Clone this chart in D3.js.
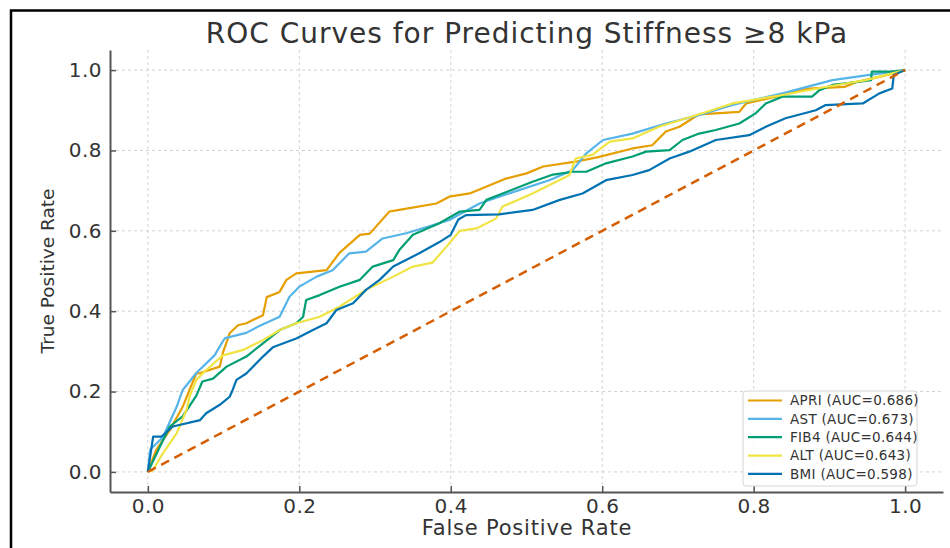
<!DOCTYPE html>
<html>
<head>
<meta charset="utf-8">
<script src="https://cdn.jsdelivr.net/npm/d3@7"></script>
<style>
  body { margin: 0; background: #fff; }
  svg text { font-family: "DejaVu Sans", sans-serif; fill: #333; }
</style>
</head>
<body>
<svg id="roc" width="950" height="548"></svg>
<script>
// ROC points [false positive rate, true positive rate]
const apri = [[0,0],[0.011,0.055],[0.029,0.104],[0.046,0.162],[0.055,0.204],[0.064,0.245],[0.069,0.246],[0.095,0.262],[0.099,0.296],[0.108,0.345],[0.119,0.365],[0.13,0.37],[0.152,0.39],[0.157,0.435],[0.174,0.448],[0.183,0.478],[0.196,0.494],[0.236,0.502],[0.253,0.545],[0.28,0.59],[0.293,0.593],[0.319,0.648],[0.332,0.652],[0.381,0.668],[0.398,0.685],[0.425,0.693],[0.473,0.73],[0.5,0.743],[0.522,0.76],[0.565,0.772],[0.596,0.784],[0.64,0.805],[0.666,0.813],[0.684,0.847],[0.702,0.859],[0.728,0.89],[0.781,0.896],[0.79,0.917],[0.829,0.934],[0.873,0.954],[0.92,0.958],[0.935,0.97],[0.97,0.985],[1,1]];
const ast = [[0,0],[0.003,0.055],[0.02,0.087],[0.038,0.162],[0.046,0.204],[0.064,0.246],[0.088,0.29],[0.1,0.328],[0.102,0.333],[0.13,0.346],[0.145,0.361],[0.174,0.386],[0.187,0.436],[0.2,0.461],[0.223,0.486],[0.244,0.502],[0.266,0.544],[0.288,0.548],[0.31,0.581],[0.341,0.594],[0.376,0.614],[0.398,0.627],[0.438,0.668],[0.464,0.685],[0.53,0.726],[0.561,0.751],[0.579,0.793],[0.601,0.826],[0.64,0.842],[0.684,0.867],[0.728,0.888],[0.772,0.913],[0.838,0.942],[0.904,0.975],[0.953,0.988],[1,1]];
const fib4 = [[0,0],[0.016,0.063],[0.029,0.113],[0.046,0.138],[0.064,0.19],[0.072,0.225],[0.086,0.232],[0.104,0.262],[0.13,0.287],[0.152,0.32],[0.174,0.353],[0.196,0.37],[0.205,0.386],[0.209,0.428],[0.227,0.44],[0.253,0.461],[0.28,0.478],[0.297,0.511],[0.324,0.527],[0.332,0.552],[0.35,0.59],[0.385,0.619],[0.412,0.648],[0.438,0.652],[0.447,0.677],[0.508,0.722],[0.535,0.74],[0.561,0.747],[0.579,0.747],[0.605,0.768],[0.64,0.785],[0.658,0.797],[0.689,0.801],[0.706,0.826],[0.728,0.842],[0.75,0.851],[0.781,0.867],[0.803,0.893],[0.816,0.917],[0.838,0.934],[0.877,0.934],[0.887,0.95],[0.904,0.963],[0.935,0.97],[0.955,0.975],[0.956,0.996],[0.983,0.996],[1,1]];
const alt = [[0,0],[0.007,0.005],[0.02,0.047],[0.038,0.096],[0.051,0.154],[0.055,0.187],[0.064,0.229],[0.075,0.25],[0.099,0.29],[0.125,0.303],[0.152,0.328],[0.174,0.353],[0.196,0.37],[0.227,0.386],[0.253,0.411],[0.288,0.453],[0.324,0.486],[0.35,0.511],[0.376,0.521],[0.394,0.56],[0.412,0.6],[0.434,0.606],[0.46,0.631],[0.468,0.66],[0.508,0.693],[0.557,0.739],[0.565,0.78],[0.587,0.789],[0.61,0.822],[0.64,0.83],[0.675,0.859],[0.728,0.89],[0.772,0.917],[0.838,0.938],[0.895,0.958],[0.948,0.975],[1,1]];
const bmi = [[0,0],[0.005,0.063],[0.007,0.088],[0.018,0.088],[0.033,0.113],[0.069,0.129],[0.077,0.146],[0.095,0.167],[0.108,0.187],[0.112,0.204],[0.117,0.229],[0.13,0.245],[0.152,0.287],[0.165,0.31],[0.196,0.332],[0.218,0.353],[0.236,0.37],[0.249,0.403],[0.271,0.42],[0.288,0.453],[0.306,0.478],[0.324,0.511],[0.35,0.536],[0.359,0.545],[0.385,0.572],[0.4,0.59],[0.41,0.628],[0.42,0.639],[0.464,0.641],[0.508,0.652],[0.544,0.677],[0.574,0.693],[0.605,0.726],[0.64,0.739],[0.662,0.751],[0.689,0.78],[0.715,0.797],[0.75,0.826],[0.794,0.838],[0.816,0.859],[0.842,0.88],[0.882,0.9],[0.895,0.913],[0.944,0.917],[0.966,0.942],[0.983,0.954],[0.985,0.988],[1,1]];

const names = ["APRI", "AST", "FIB4", "ALT", "BMI"];
const aucs = [0.686, 0.673, 0.644, 0.643, 0.598];
const curves = [apri, ast, fib4, alt, bmi];
const colors = ["#E69F00", "#56B4E9", "#009E73", "#F0E442", "#0072B2"];
const ticks = [0, 0.2, 0.4, 0.6, 0.8, 1.0];
const chance = [[0, 0], [1, 1]];

const svg = d3.select("#roc");

// outer frame (left and top edges visible)
svg.append("rect")
    .attr("x", 11).attr("y", 10.5)
    .attr("width", 1200).attr("height", 1200)
    .attr("fill", "none")
    .attr("stroke", "#000")
    .attr("stroke-width", 2.5);

const plot = { left: 110, right: 943, top: 50, bottom: 492 };
const x = d3.scaleLinear().domain([-0.05, 1.05]).range([plot.left, plot.right]);
const y = d3.scaleLinear().domain([-0.05, 1.05]).range([plot.bottom, plot.top]);

// grid
const grid = svg.append("g")
    .attr("stroke", "#d2d2d2")
    .attr("stroke-width", 1)
    .attr("stroke-dasharray", "3,3");
grid.selectAll(".gx").data(ticks).enter().append("line")
    .attr("x1", d => x(d)).attr("x2", d => x(d))
    .attr("y1", plot.top).attr("y2", plot.bottom);
grid.selectAll(".gy").data(ticks).enter().append("line")
    .attr("y1", d => y(d)).attr("y2", d => y(d))
    .attr("x1", plot.left).attr("x2", plot.right);

// axes
const xAxis = svg.append("g")
    .attr("transform", `translate(0,${plot.bottom})`)
    .call(d3.axisBottom(x).tickValues(ticks).tickFormat(d3.format(".1f"))
        .tickSizeInner(-6).tickSizeOuter(0).tickPadding(7));
const yAxis = svg.append("g")
    .attr("transform", `translate(${plot.left},0)`)
    .call(d3.axisLeft(y).tickValues(ticks).tickFormat(d3.format(".1f"))
        .tickSizeInner(-6).tickSizeOuter(0).tickPadding(8));

[xAxis, yAxis].forEach(a => {
    a.select(".domain").attr("stroke", "#555").attr("stroke-width", 2);
    a.selectAll(".tick line").attr("stroke", "#555").attr("stroke-width", 1.5);
    a.selectAll(".tick text")
        .attr("font-family", "DejaVu Sans")
        .style("font-size", "20px")
        .style("letter-spacing", "0.5px")
        .attr("fill", "#333");
});

// curves
const line = d3.line()
    .x(d => x(d[0]))
    .y(d => y(d[1]));

curves.forEach((c, i) => {
    svg.append("path")
        .datum(c)
        .attr("fill", "none")
        .attr("stroke", colors[i])
        .attr("stroke-width", 2.2)
        .attr("stroke-linejoin", "round")
        .attr("d", line);
});

svg.append("path")
    .datum(chance)
    .attr("fill", "none")
    .attr("stroke", "#D55E00")
    .attr("stroke-width", 2.5)
    .attr("stroke-dasharray", "9,6")
    .attr("d", line);

// titles
svg.append("text")
    .attr("x", 527).attr("y", 43)
    .attr("text-anchor", "middle")
    .style("font-size", "28px")
    .style("letter-spacing", "1px")
    .text("ROC Curves for Predicting Stiffness ≥8 kPa");

svg.append("text")
    .attr("x", 527).attr("y", 535)
    .attr("text-anchor", "middle")
    .style("font-size", "21px")
    .style("letter-spacing", "0.8px")
    .text("False Positive Rate");

svg.append("text")
    .attr("transform", "translate(54,271) rotate(-90)")
    .attr("text-anchor", "middle")
    .style("font-size", "18.5px")
    .text("True Positive Rate");

// legend
const legend = svg.append("g");
legend.append("rect")
    .attr("x", 743).attr("y", 391)
    .attr("width", 174).attr("height", 95)
    .attr("rx", 3)
    .attr("fill", "#fff").attr("fill-opacity", 0.85)
    .attr("stroke", "#d5d5d5");

names.forEach((n, i) => {
    const ly = 400.5 + i * 18.35;
    legend.append("line")
        .attr("x1", 748).attr("x2", 782)
        .attr("y1", ly).attr("y2", ly)
        .attr("stroke", colors[i])
        .attr("stroke-width", 2.2);
    legend.append("text")
        .attr("x", 790).attr("y", ly)
        .attr("dy", "0.36em")
        .style("font-size", "13.5px")
        .style("letter-spacing", "0.3px")
        .text(`${n} (AUC=${aucs[i].toFixed(3)})`);
});
</script>
</body>
</html>
